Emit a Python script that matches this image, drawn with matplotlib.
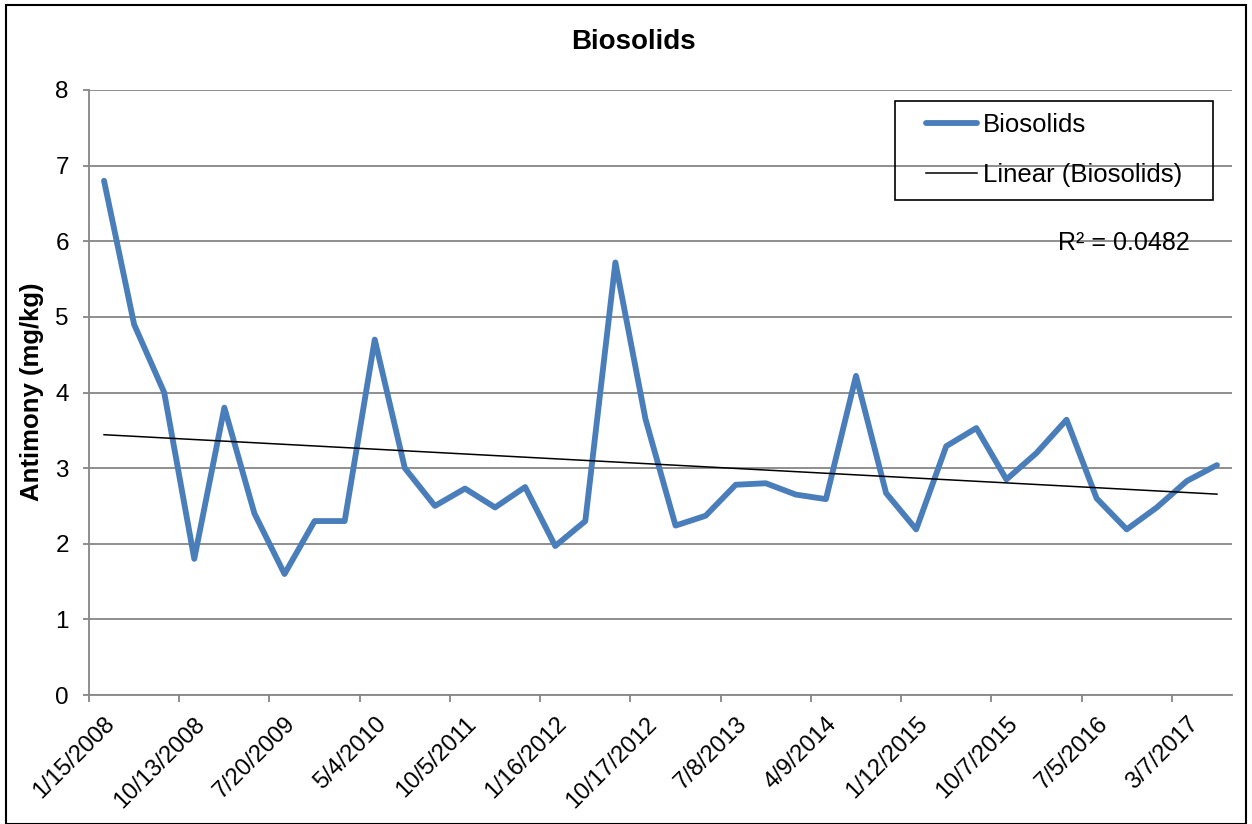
import numpy as np
import matplotlib
matplotlib.use("Agg")
import matplotlib.pyplot as plt
from matplotlib.patches import Rectangle

plt.rcParams['font.family'] = ['Liberation Sans', 'DejaVu Sans']

# Antimony in biosolids, one value per sampling event (mg/kg)
values = [6.8, 4.9, 4.0, 1.8, 3.8, 2.4, 1.6, 2.3, 2.3, 4.7,
          3.0, 2.5, 2.73, 2.48, 2.75, 1.97, 2.3, 5.72, 3.65, 2.24,
          2.37, 2.78, 2.8, 2.65, 2.59, 4.22, 2.67, 2.19, 3.29, 3.53,
          2.85, 3.2, 3.64, 2.6, 2.19, 2.48, 2.83, 3.04]

# every third sample date is labelled on the axis
tick_labels = ['1/15/2008', '10/13/2008', '7/20/2009', '5/4/2010', '10/5/2011',
               '1/16/2012', '10/17/2012', '7/8/2013', '4/9/2014', '1/12/2015',
               '10/7/2015', '7/5/2016', '3/7/2017']
r2_text = 'R² = 0.0482'

x = np.arange(len(values))
slope, intercept = np.polyfit(x + 1, values, 1)
trend = slope * (x + 1) + intercept

W, H = 1252, 824
fig = plt.figure(figsize=(W / 100, H / 100), dpi=100)
ax = fig.add_axes([89 / W, 1 - 695 / H, (1232 - 89) / W, (695 - 90) / H])

grid_col = '#868686'
line_b, = ax.plot(x, values, color='#4A7EBB', lw=4.2, solid_joinstyle='round',
                  solid_capstyle='round', label='Biosolids', zorder=3)
line_t, = ax.plot(x, trend, color='black', lw=1.1, label='Linear (Biosolids)', zorder=4)

ax.set_xlim(-0.5, len(values) - 0.5)
ax.set_ylim(0, 8)
ax.set_yticks(range(0, 9))
ax.yaxis.grid(True, color=grid_col, lw=1.3)
ax.set_axisbelow(True)

ax.set_xticks(np.arange(-0.5, len(values) - 1, 3))
ax.set_xticklabels([])
ax.set_xticks(x[::3], minor=True)
ax.set_xticklabels(tick_labels, minor=True, rotation=45, ha='right', va='top',
                   rotation_mode='anchor', fontsize=17)
ax.tick_params(axis='x', which='minor', length=0, pad=13)
ax.tick_params(axis='x', which='major', length=5, color=grid_col, width=1.3)
ax.tick_params(axis='y', length=4.5, color=grid_col, width=1.3, labelsize=17.5, pad=10)

for side in ['top', 'right']:
    ax.spines[side].set_visible(False)
for side in ['left', 'bottom']:
    ax.spines[side].set_color(grid_col)
    ax.spines[side].set_linewidth(1.3)

fig.text(633 / W, 1 - 42 / H, 'Biosolids', ha='center', va='center',
         fontsize=20, fontweight='bold')
fig.text(32 / W, 1 - 392 / H, 'Antimony (mg/kg)', ha='center', va='center',
         rotation=90, fontsize=18.5, fontweight='bold')

# legend box drawn separately so the padding matches
fig.patches.append(Rectangle((895 / W, 1 - 200 / H), 318 / W, 99 / H,
                             transform=fig.transFigure, fill=False,
                             edgecolor='black', lw=1.2, zorder=5))
leg = ax.legend(handles=[line_b, line_t], loc='center left',
                bbox_to_anchor=(926 / W, 1 - 150 / H), bbox_transform=fig.transFigure,
                fontsize=18.5, frameon=False, borderpad=0, labelspacing=1.0,
                handlelength=2.0, handletextpad=0.2, borderaxespad=0)

fig.text(1058 / W, 1 - 243 / H, r2_text, ha='left', va='center', fontsize=18)

fig.patches.append(Rectangle((6 / W, 0), 1240 / W, 1 - 5 / H,
                             transform=fig.transFigure, fill=False,
                             edgecolor='black', lw=1.5))

fig.savefig('out.png', dpi=100)
